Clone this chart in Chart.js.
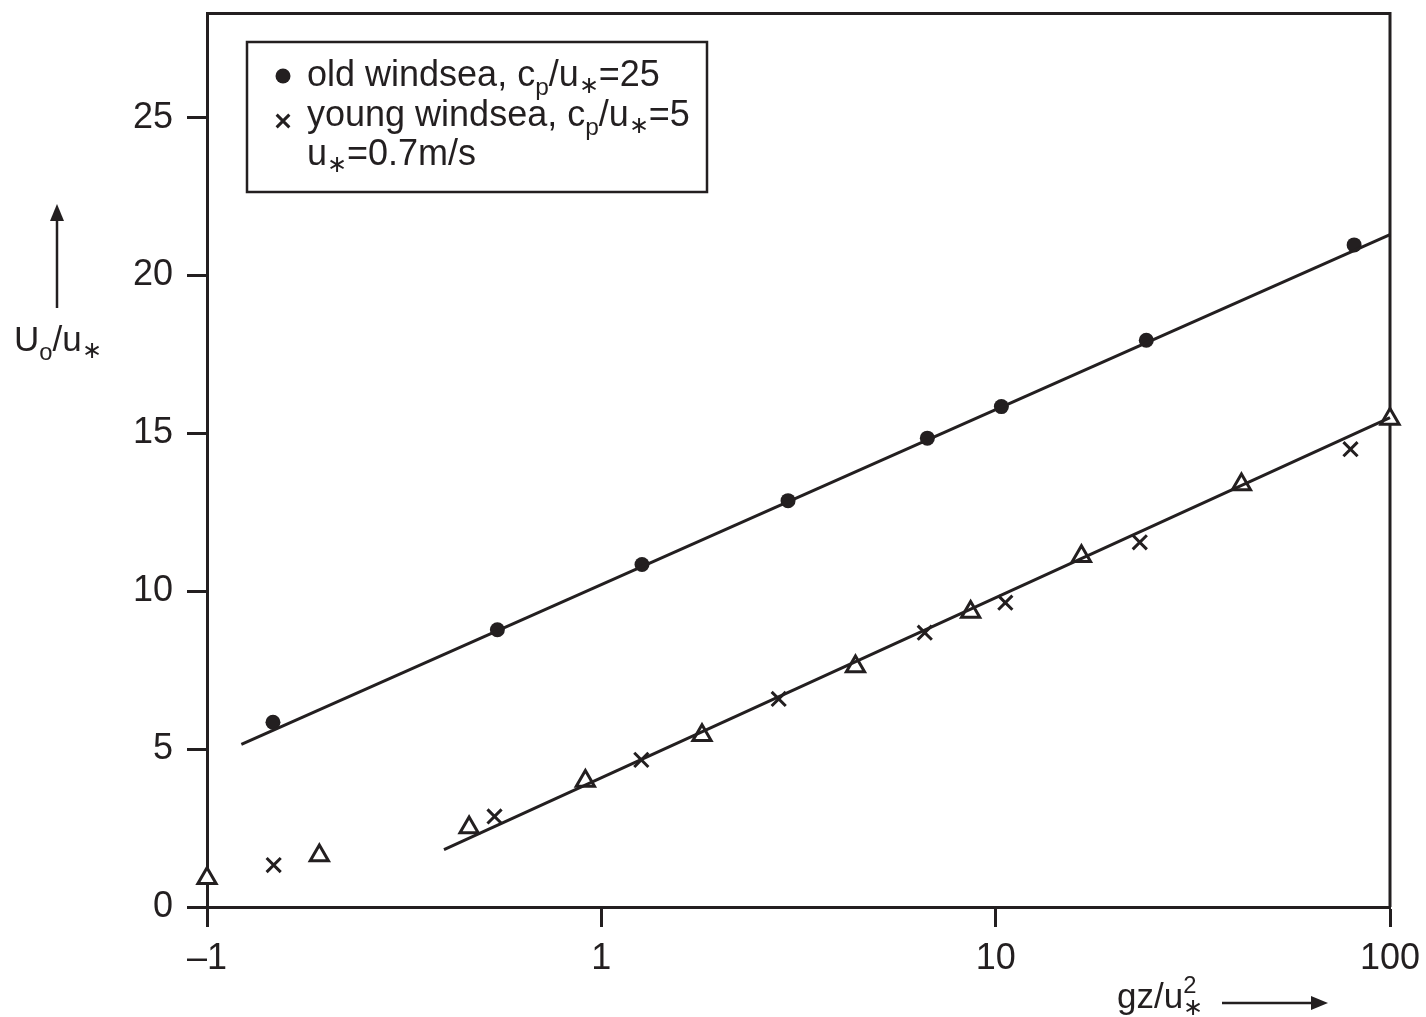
<!DOCTYPE html>
<html>
<head>
<meta charset="utf-8">
<script src="https://cdn.jsdelivr.net/npm/chart.js@4.4.0/dist/chart.umd.min.js"></script>
<style>
html, body { margin: 0; padding: 0; background: #fff; }
</style>
</head>
<body>
<canvas id="myChart" width="1426" height="1017"></canvas>
<script>
// values (x is gz/u*^2 on a log axis, y is U0/u*)
const oldX = [0.147, 0.545, 1.268, 2.975, 6.71, 10.34, 24.1, 81.1];
const oldY = [5.85, 8.78, 10.85, 12.87, 14.85, 15.85, 17.95, 20.97];

const youngX = [0.1476, 0.536, 1.263, 2.817, 6.61, 10.58, 23.2, 79.4];
const youngY = [1.33, 2.87, 4.66, 6.59, 8.69, 9.64, 11.55, 14.50];

const triX = [0.1, 0.1927, 0.462, 0.911, 1.80, 4.41, 8.64, 16.5, 42.0, 100];
const triY = [0.91, 1.63, 2.52, 3.99, 5.44, 7.62, 9.34, 11.11, 13.38, 15.46];

const fitOldX = [0.1222, 100];
const fitOldY = [5.15, 21.30];
const fitYoungX = [0.399, 100];
const fitYoungY = [1.82, 15.5];

const xTickValues = [0.1, 1, 10, 100];
const xTickLabels = ['\u20131', '1', '10', '100'];
const yTickValues = [0, 5, 10, 15, 20, 25];

const ink = '#231f20';
const fam = '"Liberation Sans", Arial, Helvetica, sans-serif';

function pts(xs, ys) {
	let out = [];
	for (var i = 0; i < xs.length; i++) {
		out[i] = {x: xs[i], y: ys[i]};
	}
	return out;
}

// draws text with sub/superscript pieces
function richText(ctx, parts, x, y, size) {
	let cx = x;
	parts.forEach(function (p) {
		let s = size, dy = 0;
		if (p.k === 'sub') { s = size * 0.68; dy = size * 0.26; }
		if (p.k === 'sup') { s = size * 0.68; dy = -size * 0.42; }
		if (p.k === 'star') { s = size * 0.68; dy = size * 0.2; }
		ctx.font = s + 'px ' + fam;
		ctx.fillText(p.t, cx, y + dy);
		if (!p.stay) cx += ctx.measureText(p.t).width;
	});
	return cx;
}

function arrow(ctx, x1, y1, x2, y2) {
	let a = Math.atan2(y2 - y1, x2 - x1);
	let hl = 17, hw = 7;
	let bx = x2 - Math.cos(a) * hl, by = y2 - Math.sin(a) * hl;
	ctx.beginPath();
	ctx.moveTo(x1, y1);
	ctx.lineTo(bx, by);
	ctx.lineWidth = 2.5;
	ctx.stroke();
	ctx.beginPath();
	ctx.moveTo(x2, y2);
	ctx.lineTo(bx - Math.sin(a) * hw, by + Math.cos(a) * hw);
	ctx.lineTo(bx + Math.sin(a) * hw, by - Math.cos(a) * hw);
	ctx.closePath();
	ctx.fill();
}

const framePlugin = {
	id: 'frame',
	beforeDatasetsDraw(chart) {
		const ctx = chart.ctx, a = chart.chartArea;
		ctx.save();
		ctx.strokeStyle = ink;
		ctx.lineWidth = 3;
		ctx.beginPath();
		ctx.moveTo(a.left, a.top);
		ctx.lineTo(a.right, a.top);
		ctx.lineTo(a.right, a.bottom);
		ctx.stroke();
		ctx.restore();
	}
};

const labelsPlugin = {
	id: 'labels',
	afterDraw(chart) {
		const ctx = chart.ctx;
		ctx.save();
		ctx.fillStyle = ink;
		ctx.strokeStyle = ink;
		ctx.textBaseline = 'alphabetic';
		ctx.textAlign = 'left';

		// y axis title with arrow
		richText(ctx, [{t: 'U'}, {t: 'o', k: 'sub'}, {t: '/u'}, {t: '\u2217', k: 'star'}], 14, 351, 35);
		arrow(ctx, 57, 308, 57, 204);

		// x axis title with arrow
		richText(ctx, [{t: 'gz/u'}, {t: '2', k: 'sup', stay: true}, {t: '\u2217', k: 'star'}], 1117, 1008, 35);
		arrow(ctx, 1222, 1003, 1328, 1003);

		// legend box
		ctx.lineWidth = 2.5;
		ctx.strokeRect(247, 42, 460, 150);
		ctx.fillStyle = ink;
		Chart.helpers.drawPoint(ctx, {pointStyle: 'circle', radius: 7.5, borderWidth: 0}, 283, 76);
		ctx.lineWidth = 3;
		Chart.helpers.drawPoint(ctx, {pointStyle: 'crossRot', radius: 9, borderWidth: 3}, 283, 121);
		richText(ctx, [{t: 'old windsea, c'}, {t: 'p', k: 'sub'}, {t: '/u'}, {t: '\u2217', k: 'star'}, {t: '=25'}], 307, 86, 36);
		richText(ctx, [{t: 'young windsea, c'}, {t: 'p', k: 'sub'}, {t: '/u'}, {t: '\u2217', k: 'star'}, {t: '=5'}], 307, 126, 36);
		richText(ctx, [{t: 'u'}, {t: '\u2217', k: 'star'}, {t: '=0.7m/s'}], 307, 165, 36);
		ctx.restore();
	}
};

const tickFont = {family: fam, size: 36};

let chart = new Chart(document.getElementById('myChart').getContext('2d'), {
	type: 'scatter',
	data: {
		datasets: [
			{
				label: 'fit old',
				data: pts(fitOldX, fitOldY),
				showLine: true,
				borderColor: ink,
				borderWidth: 3,
				pointRadius: 0,
				clip: false
			},
			{
				label: 'fit young',
				data: pts(fitYoungX, fitYoungY),
				showLine: true,
				borderColor: ink,
				borderWidth: 3,
				pointRadius: 0,
				clip: false
			},
			{
				label: 'old windsea',
				data: pts(oldX, oldY),
				pointStyle: 'circle',
				pointRadius: 7.5,
				backgroundColor: ink,
				borderWidth: 0
			},
			{
				label: 'young windsea',
				data: pts(youngX, youngY),
				pointStyle: 'crossRot',
				pointRadius: 10,
				borderColor: ink,
				borderWidth: 3
			},
			{
				label: 'other',
				data: pts(triX, triY),
				pointStyle: 'triangle',
				pointRadius: 10.5,
				backgroundColor: '#ffffff',
				borderColor: ink,
				borderWidth: 3,
				clip: false
			}
		]
	},
	options: {
		responsive: false,
		animation: false,
		layout: {padding: {left: 0, right: 36, top: 10, bottom: 0}},
		plugins: {
			legend: {display: false},
			tooltip: {enabled: false}
		},
		scales: {
			x: {
				type: 'logarithmic',
				position: 'bottom',
				min: 0.1,
				max: 100,
				afterBuildTicks: function (s) { s.ticks = xTickValues.map(function (v) { return {value: v}; }); },
				afterFit: function (s) { s.height = 110; s.paddingLeft = 0; s.paddingRight = 0; },
				border: {display: true, color: ink, width: 3},
				grid: {drawOnChartArea: false, tickLength: 20, tickWidth: 3, tickColor: ink},
				ticks: {
					font: tickFont,
					color: ink,
					padding: 10,
					maxRotation: 0,
					autoSkip: false,
					callback: function (v, i) { return xTickLabels[i]; }
				}
			},
			y: {
				type: 'linear',
				min: 0,
				max: 28.3,
				afterBuildTicks: function (s) { s.ticks = yTickValues.map(function (v) { return {value: v}; }); },
				afterFit: function (s) { s.width = 207; s.paddingTop = 0; s.paddingBottom = 0; },
				border: {display: true, color: ink, width: 3},
				grid: {drawOnChartArea: false, tickLength: 20, tickWidth: 3, tickColor: ink},
				ticks: {font: tickFont, color: ink, padding: 14}
			}
		}
	},
	plugins: [framePlugin, labelsPlugin]
});
</script>
</body>
</html>
